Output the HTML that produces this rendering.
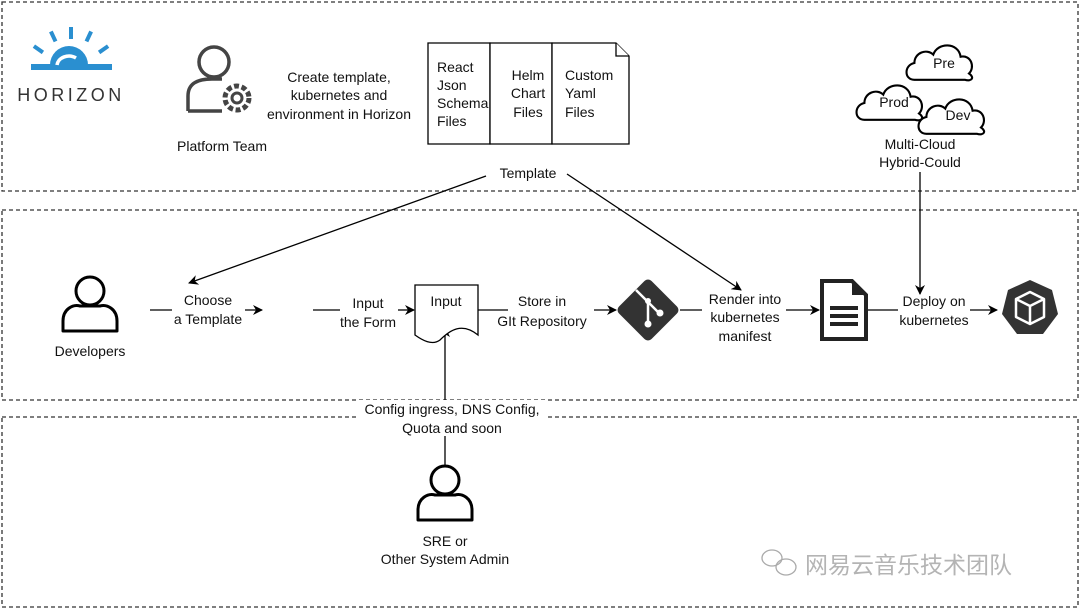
<!DOCTYPE html>
<html><head><style>body{margin:0;background:#fff}svg{display:block}text{font-family:"Liberation Sans","Noto Sans CJK SC",sans-serif;font-size:14px;fill:#111}</style></head><body>
<svg width="1080" height="610" viewBox="0 0 1080 610">
<defs><marker id="a" markerWidth="10" markerHeight="10" refX="9" refY="5" orient="auto" markerUnits="userSpaceOnUse"><path d="M0,0 L10,5 L0,10 L3,5Z" fill="#000"/></marker>
<g id="cl"><path d="M8,36 C-2,36 -2,22 8,20 C8,10 20,6 26,12 C30,0 50,0 52,14 C62,12 66,24 60,30 C66,34 62,38 56,36 Z" fill="#fff" stroke="#000" stroke-width="2"/></g>
<g id="pr"><circle cx="0" cy="-14" r="14" fill="none" stroke="#000" stroke-width="3"/><path d="M-27,26 V16 C-27,4 -17,-1 -10,1 H10 C17,-1 27,4 27,16 V26 Z" fill="none" stroke="#000" stroke-width="3" stroke-linejoin="round"/></g>
</defs>
<g fill="none" stroke="#333" stroke-width="1.3" stroke-dasharray="4,3">
<rect x="2" y="2" width="1076" height="189"/><rect x="2" y="210" width="1076" height="190"/><rect x="2" y="417" width="1076" height="190"/></g>
<!-- horizon logo -->
<g fill="#2a8fd0"><rect x="31" y="64" width="81" height="6"/><path d="M50,65 A19,19 0 0 1 88,65 Z"/><rect x="69" y="27" width="4" height="12"/><rect x="51" y="31" width="4" height="11" transform="rotate(-25 53 36)"/><rect x="87" y="31" width="4" height="11" transform="rotate(25 89 36)"/><rect x="36" y="44" width="4" height="11" transform="rotate(-55 38 49)"/><rect x="102" y="44" width="4" height="11" transform="rotate(55 104 49)"/></g>
<path d="M57,65 A12,10 0 0 1 76,58" stroke="#fff" stroke-width="3.5" fill="none"/>
<text x="71" y="101" text-anchor="middle" style="font-size:18px;letter-spacing:3.5px;fill:#333">HORIZON</text>
<!-- platform team -->
<circle cx="214" cy="62" r="15" fill="none" stroke="#444" stroke-width="3.5"/><path d="M188,111 V96 C188,83 198,79 212,79 H222" fill="none" stroke="#444" stroke-width="3.5"/><path d="M188,111 H222" stroke="#444" stroke-width="3.5"/>
<circle cx="237" cy="98" r="12" fill="none" stroke="#444" stroke-width="5" stroke-dasharray="5,2.6"/><circle cx="237" cy="98" r="5" fill="none" stroke="#444" stroke-width="3"/>
<text x="222" y="151" text-anchor="middle">Platform Team</text>
<text x="339" y="82" text-anchor="middle">Create template,</text><text x="339" y="100" text-anchor="middle">kubernetes and</text><text x="339" y="119" text-anchor="middle">environment in Horizon</text>
<!-- files -->
<g fill="#fff" stroke="#000" stroke-width="1.3"><path d="M428,43 H490 V144 H428Z"/><path d="M490,43 H552 V144 H490Z"/><path d="M552,43 H616 L629,56 V144 H552Z"/><path d="M616,43 V56 H629"/></g>
<text x="437" y="72">React</text><text x="437" y="90">Json</text><text x="437" y="108">Schema</text><text x="437" y="126">Files</text>
<text x="528" y="80" text-anchor="middle">Helm</text><text x="528" y="98" text-anchor="middle">Chart</text><text x="528" y="117" text-anchor="middle">Files</text>
<text x="565" y="80">Custom</text><text x="565" y="98">Yaml</text><text x="565" y="117">Files</text>
<text x="528" y="178" text-anchor="middle">Template</text>
<g stroke="#000" stroke-width="1.3" fill="none">
<path d="M486,176 L189,283" marker-end="url(#a)"/><path d="M567,174 L741,290" marker-end="url(#a)"/>
<path d="M920,172 V294" marker-end="url(#a)"/>
<path d="M150,310 H172"/><path d="M245,310 H262" marker-end="url(#a)"/>
<path d="M313,310 H340"/><path d="M398,310 H414" marker-end="url(#a)"/>
<path d="M478,310 H508"/><path d="M594,310 H616" marker-end="url(#a)"/>
<path d="M680,310 H702"/><path d="M786,310 H819" marker-end="url(#a)"/>
<path d="M868,310 H898"/><path d="M970,310 H997" marker-end="url(#a)"/>
<path d="M445,465 V328" marker-end="url(#a)"/>
</g>
<!-- clouds -->
<use href="#cl" transform="translate(906,42) scale(1.05)"/><use href="#cl" transform="translate(856,82) scale(1.05)"/><use href="#cl" transform="translate(918,96) scale(1.05)"/>
<text x="944" y="68" text-anchor="middle">Pre</text><text x="894" y="107" text-anchor="middle">Prod</text><text x="958" y="120" text-anchor="middle">Dev</text>
<text x="920" y="149" text-anchor="middle">Multi-Cloud</text><text x="920" y="167" text-anchor="middle">Hybrid-Could</text>
<!-- developers -->
<use href="#pr" transform="translate(90,305)"/>
<text x="90" y="356" text-anchor="middle">Developers</text>
<text x="208" y="305" text-anchor="middle">Choose</text><text x="208" y="324" text-anchor="middle">a Template</text>
<text x="368" y="308" text-anchor="middle">Input</text><text x="368" y="327" text-anchor="middle">the Form</text>
<path d="M415,285 H478 V335 C462,322 450,330 440,340 C432,346 422,340 415,335 Z" fill="#fff" stroke="#000" stroke-width="1.3"/>
<text x="446" y="306" text-anchor="middle">Input</text>
<text x="542" y="306" text-anchor="middle">Store in</text><text x="542" y="326" text-anchor="middle">GIt Repository</text>
<!-- git -->
<rect x="625" y="287" width="46" height="46" rx="5" fill="#333" transform="rotate(45 648 310)"/>
<path d="M636,290 L648,302 V322 M648,302 L658,312" stroke="#fff" stroke-width="2.5" fill="none"/><circle cx="648" cy="324" r="3.5" fill="#fff"/><circle cx="660" cy="313" r="3.5" fill="#fff"/><circle cx="648" cy="301" r="3" fill="#fff"/>
<text x="745" y="304" text-anchor="middle">Render into</text><text x="745" y="322" text-anchor="middle">kubernetes</text><text x="745" y="341" text-anchor="middle">manifest</text>
<!-- doc -->
<path d="M822,281 H852 L866,295 V339 H822Z" fill="#fff" stroke="#222" stroke-width="4"/><path d="M852,281 V295 H866Z" fill="#222"/>
<rect x="830" y="306" width="28" height="4" fill="#222"/><rect x="830" y="314" width="28" height="4" fill="#222"/><rect x="830" y="322" width="28" height="4" fill="#222"/>
<text x="934" y="306" text-anchor="middle">Deploy on</text><text x="934" y="325" text-anchor="middle">kubernetes</text>
<!-- k8s -->
<path d="M1030,280 L1052,290 L1058,314 L1043,334 L1017,334 L1002,314 L1008,290 Z" fill="#333"/>
<path d="M1030,292 L1044,299 V317 L1030,324 L1016,317 V299 Z M1016,299 L1030,306 L1044,299 M1030,306 V324" fill="none" stroke="#fff" stroke-width="2.5" stroke-linejoin="round"/>
<!-- SRE -->
<rect x="356" y="400" width="192" height="36" fill="#fff"/>
<text x="452" y="414" text-anchor="middle">Config ingress, DNS Config,</text><text x="452" y="433" text-anchor="middle">Quota and soon</text>
<use href="#pr" transform="translate(445,494)"/>
<text x="445" y="546" text-anchor="middle">SRE or</text><text x="445" y="564" text-anchor="middle">Other System Admin</text>
<!-- watermark -->
<g fill="none" stroke="#aaa" stroke-width="1.3"><ellipse cx="772" cy="558" rx="10" ry="8"/><ellipse cx="786" cy="567" rx="10" ry="8"/></g>
<text x="805" y="573" style="font-size:23px;fill:#b4b4b4">网易云音乐技术团队</text>
</svg>
</body></html>
